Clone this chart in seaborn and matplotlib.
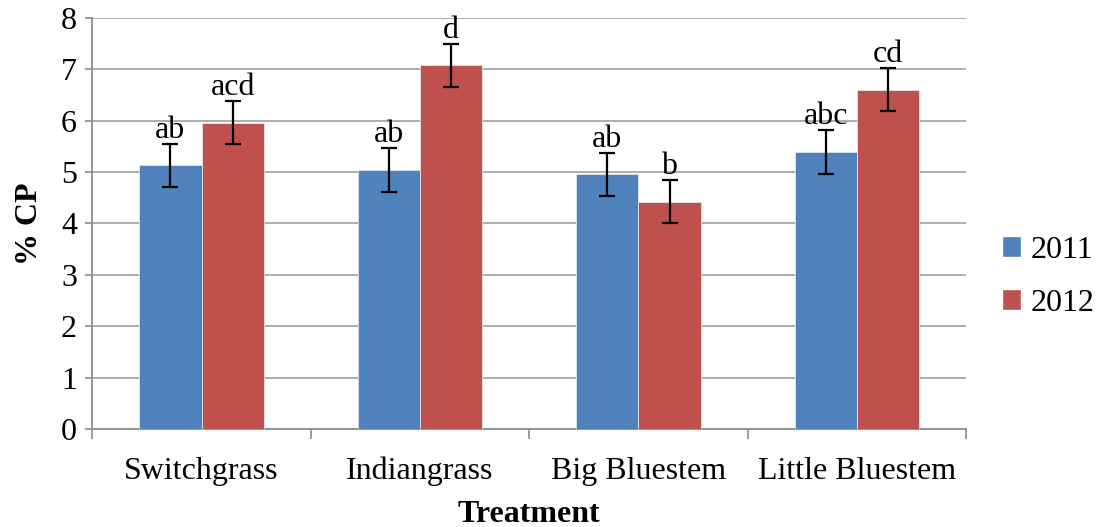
import matplotlib
matplotlib.use("Agg")
import matplotlib.pyplot as plt
import seaborn as sns
import pandas as pd
import numpy as np
from matplotlib.patches import Patch

categories = ["Switchgrass", "Indiangrass", "Big Bluestem", "Little Bluestem"]
years = ["2011", "2012"]
cp_2011 = [5.13, 5.04, 4.96, 5.39]
cp_2012 = [5.96, 7.08, 4.42, 6.60]
err_2011 = [0.42, 0.42, 0.42, 0.42]
err_2012 = [0.42, 0.42, 0.42, 0.42]
letters_2011 = ["ab", "ab", "ab", "abc"]
letters_2012 = ["acd", "d", "b", "cd"]
yticks = [0, 1, 2, 3, 4, 5, 6, 7, 8]

colors = ["#4F81BD", "#C0504D"]

df = pd.DataFrame({
    "Treatment": categories * 2,
    "Year": [years[0]] * 4 + [years[1]] * 4,
    "CP": cp_2011 + cp_2012,
})

sns.set_theme(style="white")
plt.rcParams["font.family"] = ["Liberation Serif", "DejaVu Serif"]
plt.rcParams["text.color"] = "black"
plt.rcParams["axes.labelcolor"] = "black"
plt.rcParams["xtick.labelcolor"] = "black"
plt.rcParams["ytick.labelcolor"] = "black"

FS = 23

fig = plt.figure(figsize=(10.99, 5.27), dpi=100)
ax = fig.add_axes([0.084, 0.186, 0.795, 0.78])

sns.barplot(data=df, x="Treatment", y="CP", hue="Year", order=categories,
            hue_order=years, palette=colors, width=0.57, gap=0,
            errorbar=None, saturation=1, ax=ax, legend=False,
            edgecolor="#dfe6ee", linewidth=0.6, zorder=3)

bar_containers = list(ax.containers)
errs = [err_2011, err_2012]
labs = [letters_2011, letters_2012]
vals = [cp_2011, cp_2012]
for h, cont in enumerate(bar_containers):
    for i, bar in enumerate(cont):
        xc = bar.get_x() + bar.get_width() / 2
        v = vals[h][i]
        e = errs[h][i]
        ax.errorbar(xc, v, yerr=e, fmt="none", ecolor="black",
                    elinewidth=1.6, capsize=6, capthick=1.6, zorder=4)
        ax.text(xc, v + e - 0.02, labs[h][i], ha="center", va="bottom",
                fontsize=FS, color="black", zorder=5)

ax.set_ylim(0, 8)
ax.set_xlim(-0.5, 3.5)
ax.set_yticks(yticks)
ax.set_yticklabels([str(t) for t in yticks], fontsize=FS)
ax.yaxis.grid(True, color="#a6a6a6", linewidth=1.3, zorder=0)
ax.set_axisbelow(True)
ax.tick_params(axis="x", which="major", length=0, labelsize=FS, pad=20,
               labelcolor="black")
ax.set_xticks(np.arange(-0.5, 4.0, 1.0), minor=True)
ax.tick_params(axis="x", which="minor", length=7, width=1.2, color="#8c8c8c",
               direction="out", bottom=True)
ax.tick_params(axis="y", which="major", length=5, width=1.2, color="#8c8c8c",
               direction="out", left=True, pad=6, labelcolor="black")

for s in ["top", "right"]:
    ax.spines[s].set_visible(False)
for s in ["left", "bottom"]:
    ax.spines[s].set_color("#8c8c8c")
    ax.spines[s].set_linewidth(1.3)

ax.set_xlabel("Treatment", fontsize=FS, fontweight="bold", labelpad=10,
              color="black")
ax.set_ylabel("% CP", fontsize=FS, fontweight="bold", labelpad=12,
              color="black")

handles = [Patch(facecolor=colors[0]), Patch(facecolor=colors[1])]
leg = fig.legend(handles, years, loc="center left", bbox_to_anchor=(0.912, 0.475),
                 frameon=False, fontsize=FS, handlelength=0.6, handleheight=0.6,
                 handletextpad=0.3, labelspacing=0.75, borderpad=0,
                 borderaxespad=0)
for t in leg.get_texts():
    t.set_color("black")

fig.savefig("out.png", dpi=100)
